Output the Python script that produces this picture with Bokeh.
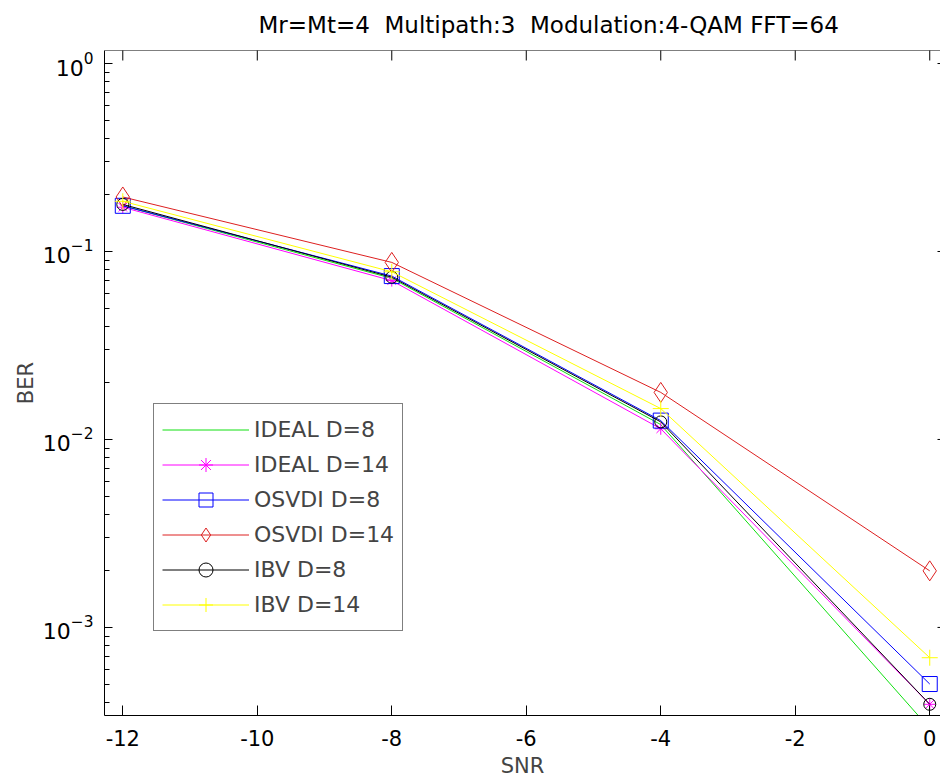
import math
from bokeh.plotting import figure
from bokeh.models import (Range1d, LogTicker, FixedTicker, Legend,
                          LegendItem, Span)
from bokeh.embed import file_html
from bokeh.resources import INLINE

# SNR (dB) sample points and BER curves
snr = [-12, -8, -4, 0]
ber_ideal_d8 = [0.175, 0.072, 0.0120, 2.9e-4]
ber_ideal_d14 = [0.172, 0.070, 0.0114, 3.9e-4]
ber_osvdi_d8 = [0.175, 0.074, 0.0126, 5.0e-4]
ber_osvdi_d14 = [0.195, 0.0875, 0.0178, 0.0020]
ber_ibv_d8 = [0.178, 0.073, 0.0124, 3.9e-4]
ber_ibv_d14 = [0.185, 0.078, 0.0146, 6.9e-4]

series_names = ["IDEAL D=8", "IDEAL D=14", "OSVDI D=8", "OSVDI D=14", "IBV D=8", "IBV D=14"]
x_ticks = [-12, -10, -8, -6, -4, -2, 0]
y_decades = [1e-3, 1e-2, 1e-1, 1.0]
# non-breaking spaces keep the double gaps from collapsing in SVG text
title_text = "Mr=Mt=4\u00a0\u00a0Multipath:3\u00a0\u00a0Modulation:4-QAM FFT=64"

FONT = "DejaVu Sans"
X_START, X_END = -12.272, 0.16
Y_START, Y_END = 3.40e-4, 1.173

p = figure(width=940, height=782, y_axis_type="log",
           x_range=Range1d(X_START, X_END), y_range=Range1d(Y_START, Y_END),
           output_backend="svg", toolbar_location=None,
           min_border_left=104, min_border_right=0,
           min_border_top=50, min_border_bottom=67)
p.grid.visible = False
p.outline_line_color = None
p.background_fill_color = "white"
p.border_fill_color = "white"

p.title.text = title_text
p.title.text_font = FONT
p.title.text_font_size = "23px"
p.title.text_font_style = "normal"
p.title.text_color = "black"
p.title.align = "left"
p.title.offset = 154
p.title.vertical_align = "top"
p.title.standoff = 22

# bottom axis
xa = p.xaxis[0]
xa.ticker = FixedTicker(ticks=x_ticks)
xa.major_label_overrides = {t: str(t) for t in x_ticks}
xa.major_tick_in = 10
xa.major_tick_out = 0
xa.minor_tick_line_color = None
xa.axis_line_color = "black"
xa.major_tick_line_color = "black"
xa.major_label_text_font = FONT
xa.major_label_text_font_size = "21px"
xa.major_label_text_color = "black"
xa.major_label_standoff = 14
xa.axis_label = "SNR"
xa.axis_label_text_font = FONT
xa.axis_label_text_font_size = "21px"
xa.axis_label_text_font_style = "normal"
xa.axis_label_standoff = 5

# left (log) axis
ya = p.yaxis[0]
ya.ticker = LogTicker(num_minor_ticks=10)
ya.major_tick_in = 8
ya.major_tick_out = 0
ya.minor_tick_in = 5
ya.minor_tick_out = 0
ya.axis_line_color = "black"
ya.major_label_text_font = FONT
ya.major_label_text_font_size = "22px"
ya.major_label_text_color = "black"
ya.major_label_standoff = 11
ya.axis_label = "BER"
ya.axis_label_text_font = FONT
ya.axis_label_text_font_size = "21px"
ya.axis_label_text_font_style = "normal"
ya.axis_label_standoff = 2

# top border with inward ticks, and short stubs on the right edge
p.add_layout(Span(location=Y_END, dimension="width", line_color="black", line_width=1))
p.scatter(x_ticks, [Y_END] * len(x_ticks), marker="dash", angle=math.pi / 2,
          size=20, line_color="black", line_width=1)
p.scatter([X_END] * len(y_decades), y_decades, marker="dash",
          size=6, line_color="black", line_width=1)

styles = [
    (ber_ideal_d8, "#10e010", None, 0),
    (ber_ideal_d14, "#ff00ff", "asterisk", 12),
    (ber_osvdi_d8, "#0000ff", "square", 15),
    (ber_osvdi_d14, "#dd2020", "diamond", 20),
    (ber_ibv_d8, "#000000", "circle", 12),
    (ber_ibv_d14, "#ffff00", "cross", 16),
]

items = []
for name, (vals, color, marker, size) in zip(series_names, styles):
    rs = [p.line(snr, vals, line_color=color, line_width=1)]
    if marker:
        rs.append(p.scatter(snr, vals, marker=marker, size=size,
                            line_color=color, fill_color=None, line_width=1))
    items.append(LegendItem(label=name, renderers=rs))

legend = Legend(items=items, location=(49, 84))
legend.border_line_color = "black"
legend.border_line_width = 1
legend.background_fill_color = "white"
legend.background_fill_alpha = 1
legend.label_text_font = FONT
legend.label_text_font_size = "22px"
legend.glyph_width = 87
legend.glyph_height = 35
legend.label_height = 35
legend.spacing = 0
legend.padding = 8
legend.margin = 0
legend.label_standoff = 5
p.add_layout(legend)

open("out.html", "w").write(file_html(p, INLINE))
